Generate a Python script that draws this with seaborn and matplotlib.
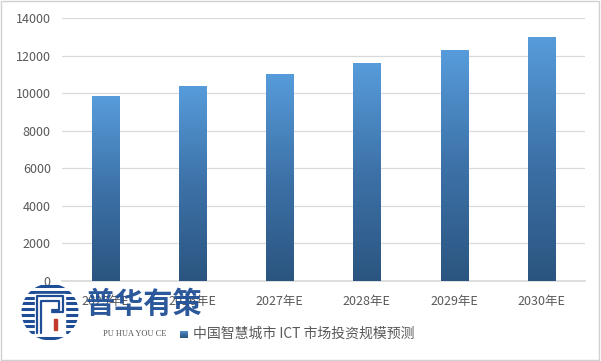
import numpy as np
import matplotlib
matplotlib.use("Agg")
import matplotlib.pyplot as plt
from matplotlib.colors import LinearSegmentedColormap
from matplotlib.patches import Rectangle, Circle
import pandas as pd
import seaborn as sns

# Data
years = ["2025年E", "2026年E", "2027年E", "2028年E", "2029年E", "2030年E"]
values = [9850, 10400, 11030, 11620, 12310, 13000]
series_name = "中国智慧城市 ICT 市场投资规模预测"

df = pd.DataFrame({"year": years, "value": values})

sns.set_theme(style="white")
plt.rcParams["font.family"] = ["Noto Sans CJK SC", "DejaVu Sans"]

fig = plt.figure(figsize=(6.01, 3.61), dpi=100)
ax = fig.add_axes([0.103, 0.222, 0.870, 0.728])

sns.barplot(data=df, x="year", y="value", ax=ax, color="#4a86c5", width=0.31,
            saturation=1, zorder=2)

# gradient fill: light blue on top, dark blue at the bottom
cmap = LinearSegmentedColormap.from_list("bar", ["#2b5580", "#3d72a8", "#579cdb"])
grad = np.linspace(0, 1, 256).reshape(-1, 1)
for p in list(ax.patches):
    x0, y0 = p.get_x(), p.get_y()
    w, h = p.get_width(), p.get_height()
    im = ax.imshow(grad, cmap=cmap, origin="lower", aspect="auto",
                   extent=[x0, x0 + w, y0, y0 + h], zorder=3)
    im.set_clip_path(p)

ax.set_xlim(-0.5, 5.5)
ax.set_ylim(0, 14000)
ax.set_yticks(range(0, 14001, 2000))
ax.yaxis.grid(True, color="#d9d9d9", linewidth=0.9)
ax.set_axisbelow(True)
for s in ["top", "right", "left"]:
    ax.spines[s].set_visible(False)
ax.spines["bottom"].set_color("#d9d9d9")
ax.set_xlabel("")
ax.set_ylabel("")
ax.tick_params(axis="y", length=0, labelsize=9, colors="#595959", pad=8)
ax.tick_params(axis="x", length=0, labelsize=9, colors="#595959", pad=10)

# legend
lx, ly = 0.321, 0.076
sq = fig.add_axes([0.300, ly - 0.012, 0.012, 0.02])
sq.imshow(grad, cmap=cmap, origin="lower", aspect="auto")
sq.axis("off")
fig.text(lx, ly, series_name, fontsize=10, color="#595959", va="center", ha="left")

# watermark
blue = "#1f4e96"
fig.text(0.142, 0.158, "普华有策", fontsize=21, fontweight="bold", color=blue,
         va="center", ha="left", alpha=0.95)
fig.text(0.171, 0.076, "PU HUA YOU CE", fontsize=6, color="#555555", va="center",
         ha="left", family=["Liberation Serif", "DejaVu Serif"])
c_ax = fig.add_axes([0.0333, 0.0526, 0.0998, 0.1662])
c_ax.set_xlim(-1, 1)
c_ax.set_ylim(-1, 1)
c_ax.set_aspect("equal")
c_ax.axis("off")
clip = Circle((0, 0), 0.95, transform=c_ax.transData)
for yy in np.linspace(-0.86, 0.86, 10):
    ln = c_ax.plot([-1, 1], [yy, yy], color=blue, linewidth=2.2,
                   solid_capstyle="butt")[0]
    ln.set_clip_path(clip)
c_ax.add_patch(Rectangle((-0.5, -0.75), 1.0, 1.35, color="white", zorder=3))
for d in [0.0, 0.16]:
    c_ax.plot([-0.45 + d, -0.45 + d, 0.45 - d, 0.45 - d, 0.05],
              [-0.7, 0.52 - d, 0.52 - d, 0.0 + d * 0.5, 0.0 + d * 0.5],
              color=blue, linewidth=1.6, zorder=4)
c_ax.add_patch(Rectangle((0.12, -0.6), 0.12, 0.38, color="#c0392b", zorder=4))

# outer border
fig.add_artist(Rectangle((0.002, 0.003), 0.995, 0.993, transform=fig.transFigure,
                         fill=False, edgecolor="#d0d0d0", linewidth=1))

fig.savefig("out.png", dpi=100)
